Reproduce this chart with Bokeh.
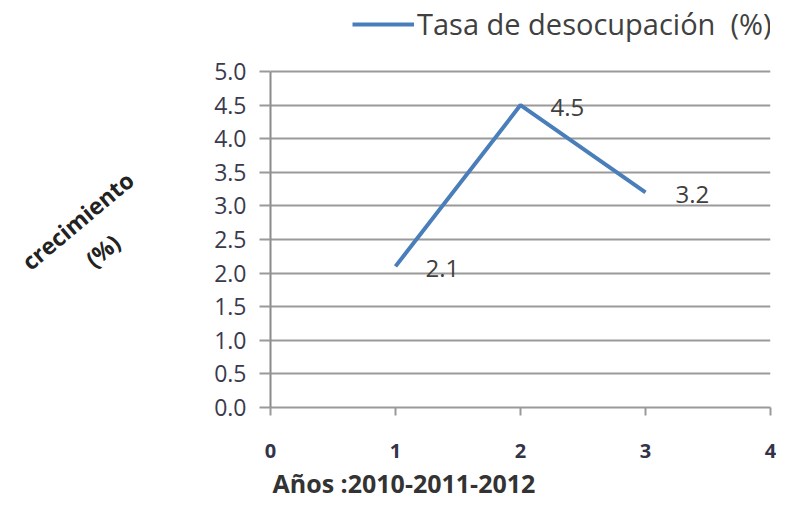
from bokeh.plotting import figure
from bokeh.layouts import row
from bokeh.models import Range1d, Legend, LegendItem, FixedTicker, CustomJSTickFormatter, Title
from bokeh.embed import file_html
from bokeh.resources import INLINE
from bokeh.core.properties import value

x_vals = [1, 2, 3]
y_vals = [2.1, 4.5, 3.2]
point_labels = ["2.1", "4.5", "3.2"]
series_name = "Tasa de desocupación  (%)"
x_title = "Años :2010-2011-2012"
y_title_lines = ["crecimiento", "(%)"]
x_ticks = [0, 1, 2, 3, 4]
y_ticks = [0.0, 0.5, 1.0, 1.5, 2.0, 2.5, 3.0, 3.5, 4.0, 4.5, 5.0]

FONT = "Open Sans"
H = 503
WT = 190            # width of the left title strip
WP = 776 - WT       # width of the main plot
FL, FR, FT, FB = 80, 580, 71, 407   # where 0..4 / 0..5 sit in the main plot's canvas px

# ---- left strip with the rotated y title (its frame is aligned with the main frame) ----
ft = figure(width=WT, height=H, output_backend="svg", toolbar_location=None,
            x_range=Range1d(0, WT), y_range=Range1d(0, FB), min_border=0,
            x_axis_type=None, y_axis_type=None)
ft.outline_line_color = None
ft.grid.visible = False
ft.text(x=[77, 102], y=[FB - 220, FB - 250], text=y_title_lines, angle=40, angle_units="deg",
        text_align="center", text_baseline="middle", text_font=value(FONT),
        text_font_size="23px", text_font_style="bold", text_color="#222222")

# ---- main plot (frame reaches the top so the legend sits inside it) ----
y_end = 5 * FB / (FB - FT)
p = figure(width=WP, height=H, output_backend="svg", toolbar_location=None,
           x_range=Range1d(0, 4), y_range=Range1d(0, y_end),
           min_border_left=FL, min_border_right=WP - FR, min_border_top=0, min_border_bottom=H - FB)
p.outline_line_color = None

p.xgrid.grid_line_color = None
p.ygrid.ticker = FixedTicker(ticks=y_ticks)
p.ygrid.grid_line_color = "#9a9a9a"
p.ygrid.grid_line_width = 2

p.yaxis.bounds = (0, 5)
p.yaxis.ticker = FixedTicker(ticks=y_ticks)
p.yaxis.formatter = CustomJSTickFormatter(code="return tick.toFixed(1);")
p.yaxis.axis_line_color = "#8a8a8a"
p.yaxis.axis_line_width = 2
p.yaxis.major_tick_line_color = "#9a9a9a"
p.yaxis.major_tick_line_width = 2
p.yaxis.major_tick_out = 11
p.yaxis.major_tick_in = 0
p.yaxis.minor_tick_line_color = None
p.yaxis.major_label_standoff = 13
p.yaxis.major_label_text_font = FONT
p.yaxis.major_label_text_font_size = "23px"
p.yaxis.major_label_text_color = "#3a3a4e"

p.xaxis.ticker = FixedTicker(ticks=x_ticks)
p.xaxis.axis_line_color = "#9a9a9a"
p.xaxis.axis_line_width = 2
p.xaxis.major_tick_line_color = "#9a9a9a"
p.xaxis.major_tick_line_width = 2
p.xaxis.major_tick_out = 8
p.xaxis.major_tick_in = 0
p.xaxis.minor_tick_line_color = None
p.xaxis.major_label_standoff = 28
p.xaxis.major_label_text_font = FONT
p.xaxis.major_label_text_font_size = "20px"
p.xaxis.major_label_text_font_style = "bold"
p.xaxis.major_label_text_color = "#33334a"

p.add_layout(Title(text=x_title, align="left", offset=2, standoff=6,
                   text_font=FONT, text_font_size="25px", text_font_style="bold",
                   text_color="#333333"), "below")

r = p.line(x_vals, y_vals, line_color="#4a7ebb", line_width=4)

p.text(x=x_vals, y=y_vals, text=point_labels, x_offset=30, y_offset=2,
       text_baseline="middle", text_align="left",
       text_font=value(FONT), text_font_size="24px", text_color="#404040")

legend = Legend(items=[LegendItem(label=series_name, renderers=[r])],
                location=(82, 364), orientation="horizontal",
                glyph_width=62, glyph_height=30, label_height=30, label_standoff=3,
                padding=0, margin=0, border_line_color=None, background_fill_alpha=0,
                label_text_font=FONT, label_text_font_size="29px", label_text_color="#404040")
p.add_layout(legend, "center")

open("out.html", "w").write(file_html(row(ft, p), INLINE))
